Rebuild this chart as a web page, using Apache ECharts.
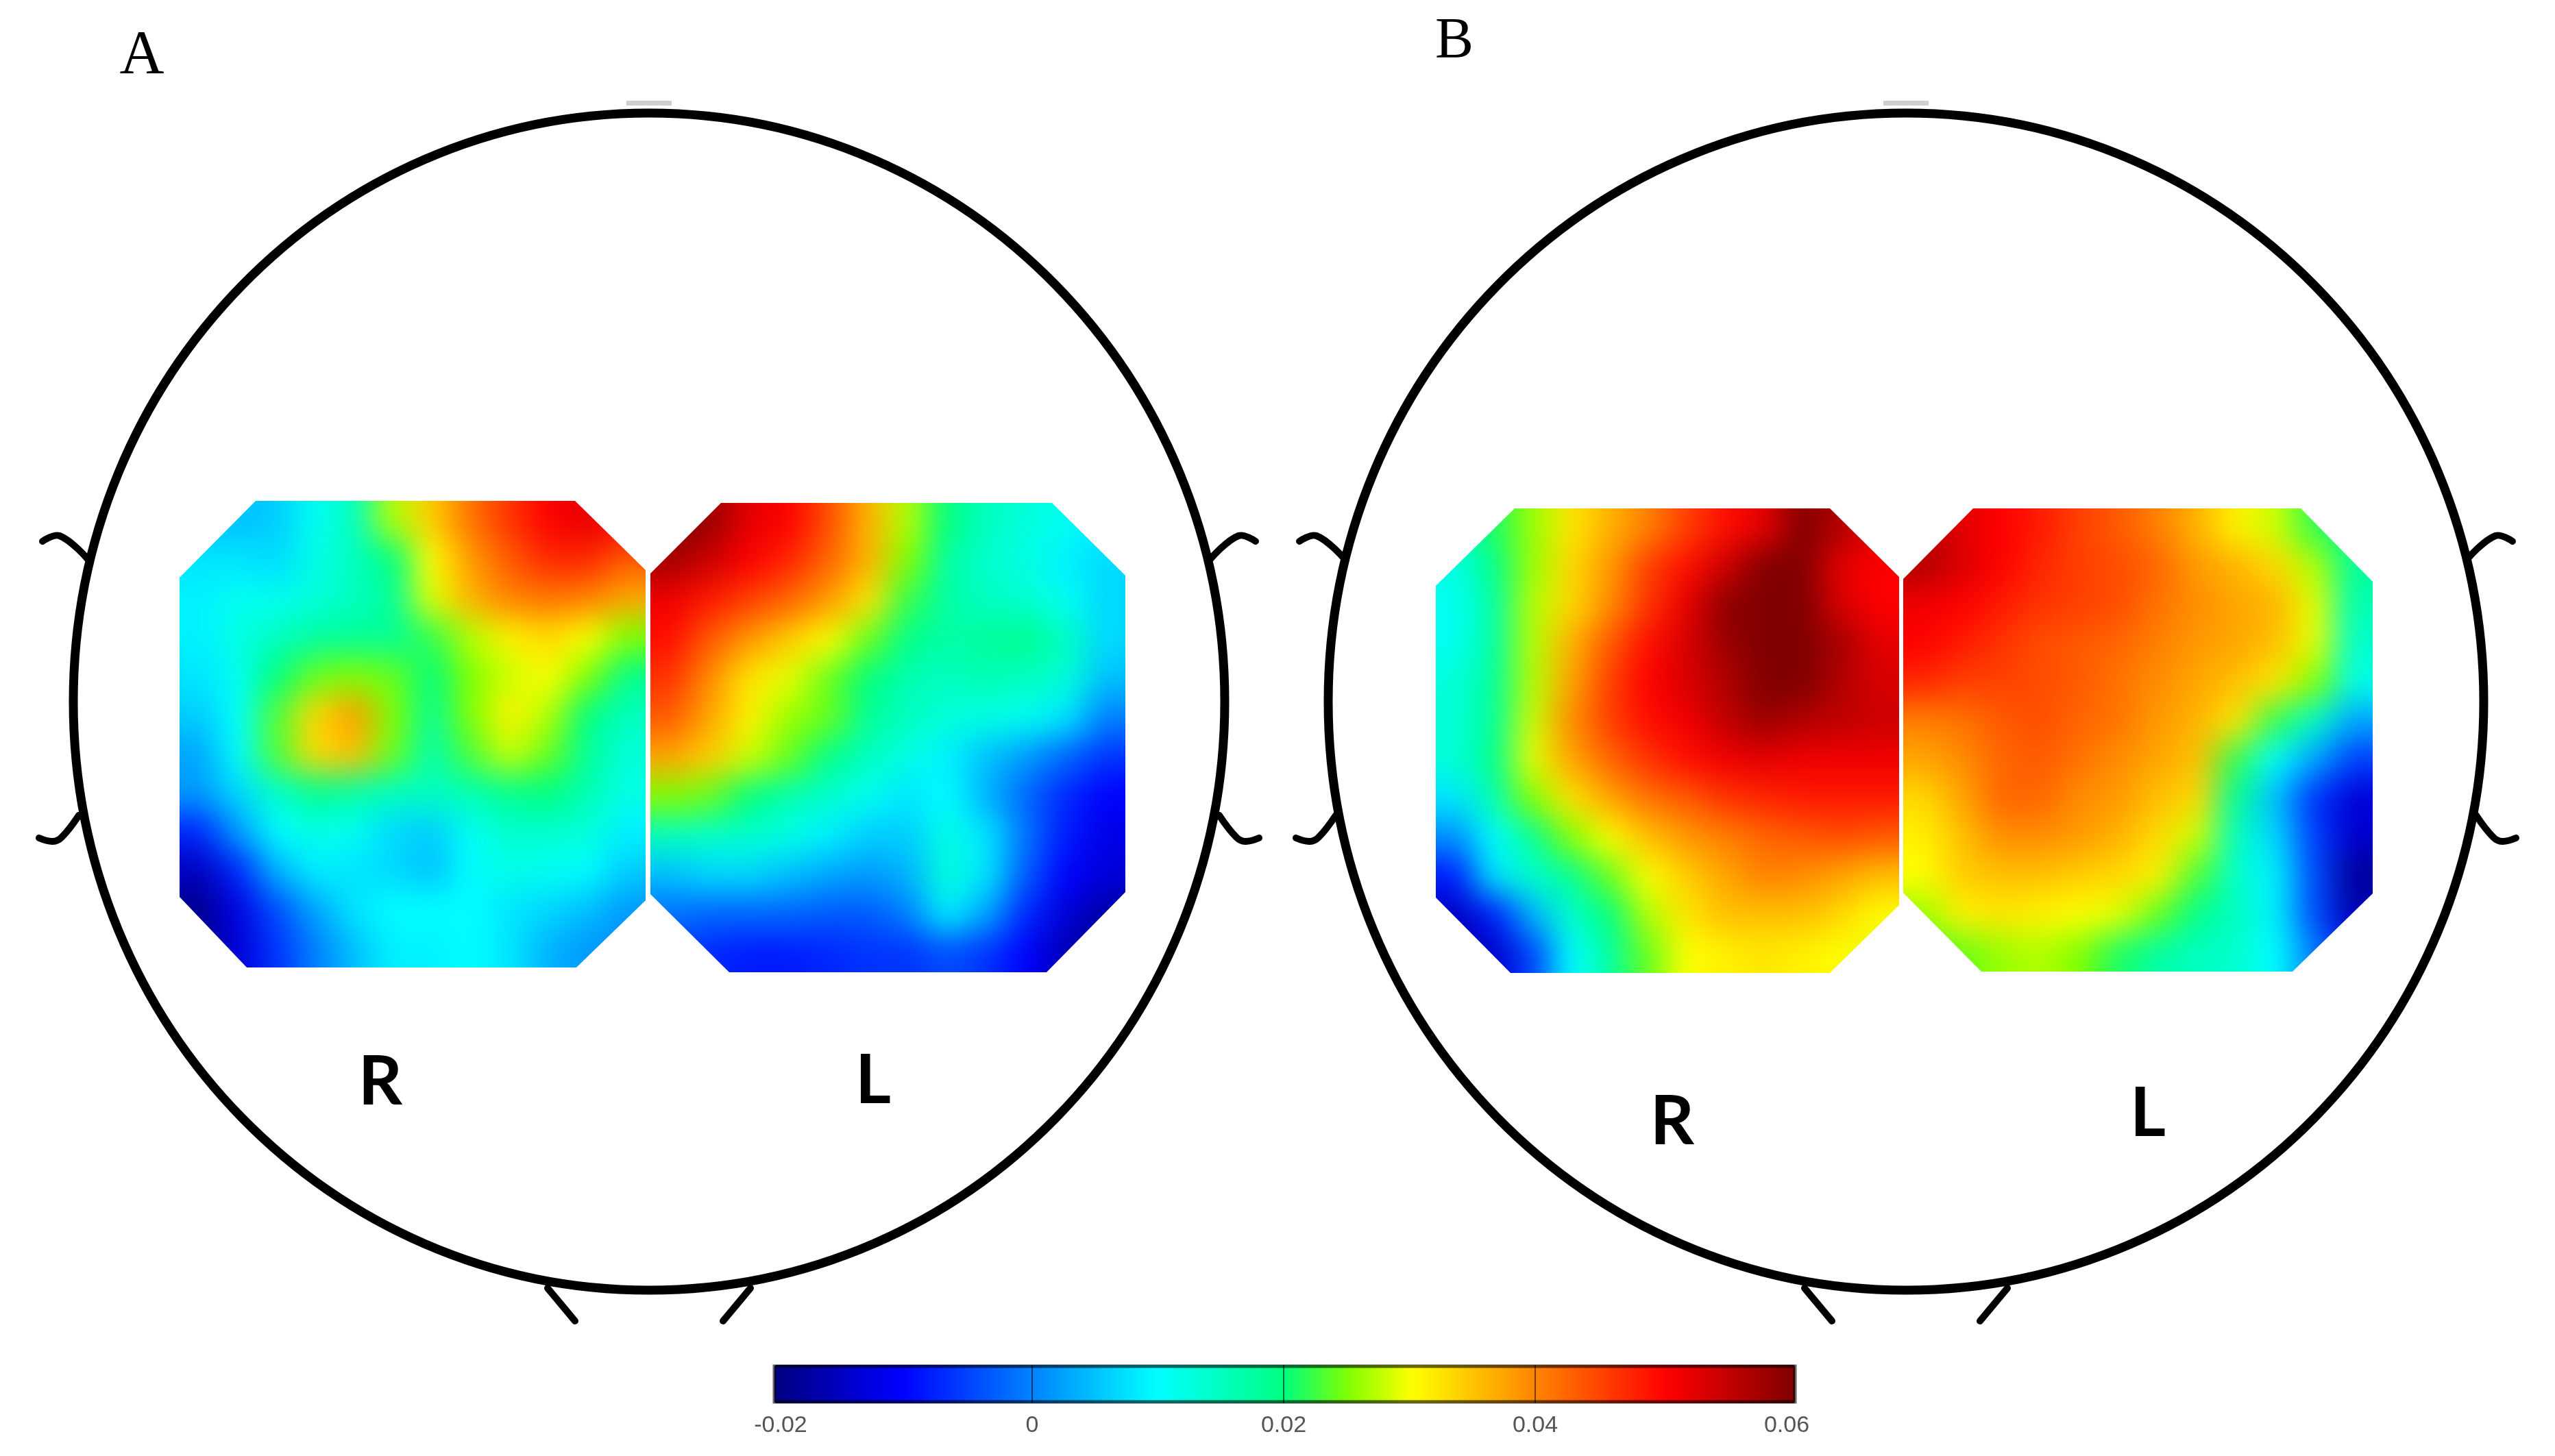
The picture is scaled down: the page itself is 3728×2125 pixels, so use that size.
<!DOCTYPE html>
<html><head><meta charset="utf-8">
<style>html,body{margin:0;padding:0;background:#fff}#c{width:3728px;height:2125px}</style>
<script src="https://cdn.jsdelivr.net/npm/echarts@6/dist/echarts.min.js"></script>
</head><body><div id="c"></div>
<script>
const mapARight = [
[5,5,6,11,15,27,34,41,46,50,52,50],
[8,8,7,12,15,20,30,38,43,47,47,43],
[9,11,11,13,15,18,29,36,40,41,40,37],
[9,12,15,17,18,18,22,27,31,33,30,25],
[8,11,20,24,25,24,20,25,28,30,25,19],
[6,10,23,33,38,25,18,25,31,27,20,15],
[3,10,23,33,35,24,16,23,28,24,18,13],
[2,7,14,19,17,15,15,16,19,20,16,12],
[-7,2,10,12,11,7,6,11,14,14,13,9],
[-15,-7,4,9,8,7,5,10,12,11,10,6],
[-19,-12,-4,3,8,10,10,10,8,7,5,2],
[-19,-13,-6,0,5,9,9,10,8,4,2,1]];
const mapALeft = [
[60,58,52,50,44,36,27,20,15,13,11,9],
[57,54,50,47,42,36,25,17,14,12,9,7],
[51,48,45,42,38,32,22,17,15,14,11,7],
[49,43,38,34,30,24,19,17,18,19,15,7],
[46,39,32,29,24,20,16,15,16,15,13,5],
[43,37,31,26,24,18,15,13,12,11,8,0],
[37,34,28,24,19,15,12,9,5,2,-2,-6],
[25,24,20,16,14,11,8,10,4,-2,-7,-10],
[15,14,14,12,9,6,6,12,8,-1,-8,-12],
[5,7,7,5,3,2,4,13,8,-3,-10,-13],
[-1,-2,-2,-2,-3,-3,0,9,3,-7,-13,-17],
[-5,-7,-8,-8,-7,-6,-6,-4,-6,-10,-16,-19]];
const mapBRight = [
[14,21,26,32,36,40,45,49,52,60,56,52],
[12,19,26,33,38,45,49,54,60,60,52,50],
[11,17,27,33,39,46,52,59,62,62,53,50],
[11,17,27,36,43,49,53,58,62,62,57,52],
[13,18,27,37,45,50,53,56,62,62,56,53],
[13,18,28,39,45,49,51,55,58,56,55,54],
[13,19,29,37,42,46,49,51,52,51,51,51],
[8,16,25,32,37,41,43,46,47,48,48,48],
[1,10,18,25,30,35,38,40,42,43,44,43],
[-8,8,14,18,24,30,34,37,40,39,37,35],
[-15,-8,4,14,20,27,32,35,35,35,33,30],
[-18,-14,-5,10,17,24,30,31,32,31,30,29]];
const mapBLeft = [
[56,52,50,48,45,43,40,36,31,28,22,18],
[56,53,50,47,45,44,42,38,36,33,27,18],
[51,50,48,46,45,44,41,39,37,36,29,16],
[50,48,46,44,43,42,40,38,37,35,29,14],
[47,45,45,44,43,41,39,37,35,32,25,12],
[40,41,43,44,42,41,38,36,32,22,14,3],
[37,39,42,43,41,39,37,35,22,10,3,-5],
[33,37,42,42,39,38,35,33,18,5,-6,-13],
[31,35,39,39,38,36,33,28,15,7,-5,-14],
[30,34,35,35,34,33,31,23,14,9,-4,-18],
[26,31,32,31,30,29,24,19,15,9,-4,-16],
[23,24,26,27,25,21,17,15,14,10,0,-10]];
const colorTicks = [-0.02, 0, 0.02, 0.04, 0.06];
const jetColors = ['#000080','#0000c0','#0000ff','#0040ff','#0080ff','#00c0ff','#00ffff','#00ffc0','#00ff80','#80ff00','#ffff00','#ffc000','#ff8000','#ff4000','#ff0000','#c00000','#800000'];
const panelLabels = ['A','B'];
const sideLabels = ['R','L'];

// Layout: outline of each hemisphere patch in page pixels.
const outlines = [
 [[373,731],[839,731],[942,832],[942,1314],[841,1412],[360,1412],[262,1309],[262,843]],
 [[1052,734],[1535,734],[1642,840],[1642,1302],[1527,1419],[1064,1419],[949,1305],[949,837]],
 [[2210,742],[2670,742],[2771,842],[2771,1321],[2670,1420],[2204,1420],[2095,1310],[2095,855]],
 [[2879,742],[3357,742],[3462,849],[3462,1304],[3345,1418],[2891,1418],[2777,1303],[2777,845]]
];
const maps = [mapARight, mapALeft, mapBRight, mapBLeft];
const heads = [{cx:947,cy:1024,rx:840,ry:859},{cx:2781,cy:1024,rx:843,ry:859}];
const BLUR = 24;

const grids=[], xAxes=[], yAxes=[], series=[];
let css='';
maps.forEach((m,k)=>{
  const xs=outlines[k].map(p=>p[0]), ys=outlines[k].map(p=>p[1]);
  const x0=Math.min(...xs), x1=Math.max(...xs), y0=Math.min(...ys), y1=Math.max(...ys);
  const cw=(x1-x0)/12, ch=(y1-y0)/12;
  // extra rings of cells repeat the edge samples, so the soft edge stays outside the outline
  const pad=3;
  const n=12+2*pad;
  grids.push({left:x0-pad*cw,top:y0-pad*ch,width:cw*n,height:ch*n,show:false});
  const cats=Array.from({length:n},(_,i)=>i);
  xAxes.push({type:'category',gridIndex:k,data:cats,show:false});
  yAxes.push({type:'category',gridIndex:k,data:cats,show:false,inverse:true});
  const data=[];
  for(let r=0;r<n;r++)for(let c=0;c<n;c++){
    const rr=Math.max(0,Math.min(11,r-pad)), cc=Math.max(0,Math.min(11,c-pad));
    data.push([c,r,m[rr][cc]/1000]);
  }
  const layer=k-4; // each patch gets its own canvas layer below the main one
  series.push({type:'heatmap',xAxisIndex:k,yAxisIndex:k,data,zlevel:layer,progressive:0,silent:true,animation:false,itemStyle:{borderWidth:0}});
  const path='M'+outlines[k].map(p=>p.join(' ')).join(' L')+' Z';
  css+=`canvas[data-zr-dom-id="zr_${layer}"]{filter:blur(${BLUR}px);clip-path:path('${path}');}\n`;
});
// colour bar axis
grids.push({left:1139,top:1992,width:1468,height:56,show:false});
xAxes.push({type:'value',gridIndex:4,min:colorTicks[0],max:colorTicks[4],interval:0.02,splitLine:{show:false},z:30,
  axisLine:{show:false},axisTick:{show:true,inside:true,length:56,customValues:colorTicks.slice(1,4),lineStyle:{color:'rgba(0,0,0,0.55)',width:2}},
  axisLabel:{margin:16,color:'#555',fontSize:34,fontFamily:'"Liberation Sans"',formatter:v=>String(+v.toFixed(2))}});
yAxes.push({type:'value',gridIndex:4,show:false,min:0,max:1});

// head outlines
const g=[];
const lineStyle={stroke:'#000',lineWidth:10,fill:null,lineCap:'round',lineJoin:'round'};
heads.forEach(h=>{
  g.push({type:'ellipse',shape:{cx:h.cx,cy:h.cy,rx:h.rx,ry:h.ry},style:{stroke:'#000',lineWidth:13,fill:null}});
  g.push({type:'rect',shape:{x:h.cx-33,y:147,width:66,height:7},style:{fill:'#cfcfcf'}});
  [-1,1].forEach(s=>{
    const px=d=>h.cx+s*d;
    g.push({type:'polyline',shape:{points:[[px(885),790],[px(860),782],[px(820),815]],smooth:0.4},style:lineStyle});
    g.push({type:'polyline',shape:{points:[[px(890),1223],[px(870),1228],[px(857),1222],[px(832),1190]],smooth:0.4},style:lineStyle});
    g.push({type:'line',shape:{x1:px(148),y1:1880,x2:px(108),y2:1928},style:lineStyle});
  });
});
// colour bar frame
g.push({type:'rect',z:20,shape:{x:1130,y:1994,width:1489,height:52},style:{stroke:'rgba(0,0,0,0.6)',lineWidth:5,fill:null}});
// texts
const txt=(t,x,y,font,size,weight)=>g.push({type:'text',x,y,style:{text:t,fontFamily:font,fontSize:size,fontWeight:weight,fill:'#000',align:'center',verticalAlign:'middle'}});
txt(panelLabels[0],207,83,'"Liberation Serif"',90,'normal');
txt(panelLabels[1],2122,62,'"Liberation Serif"',84,'normal');
txt(sideLabels[0],555,1580,'Lato',100,'bold');
txt(sideLabels[1],1274,1578,'Lato',100,'bold');
txt(sideLabels[0],2440,1638,'Lato',100,'bold');
txt(sideLabels[1],3134,1626,'Lato',100,'bold');

const st=document.createElement('style');
st.textContent=css;
document.head.appendChild(st);

const chart=echarts.init(document.getElementById('c'),null,{renderer:'canvas'});
chart.setOption({
  backgroundColor:'transparent',animation:false,
  grid:grids,xAxis:xAxes,yAxis:yAxes,series,
  visualMap:{type:'continuous',seriesIndex:[0,1,2,3],min:colorTicks[0],max:colorTicks[4],orient:'horizontal',
    left:1130,top:1992,itemWidth:56,itemHeight:1489,padding:0,calculable:false,hoverLink:false,text:null,
    inRange:{color:jetColors}},
  graphic:{elements:g}
});
</script></body></html>
